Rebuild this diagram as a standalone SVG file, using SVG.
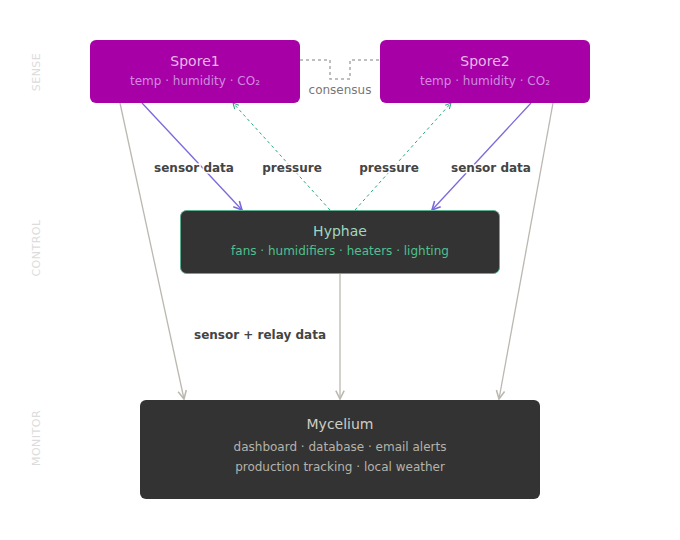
<svg xmlns="http://www.w3.org/2000/svg" width="680" height="540" viewBox="0 0 680 540">
<style>
text{font-family:"DejaVu Sans",sans-serif;text-anchor:middle}
.side{font-size:11px;fill:#dcdcdc;letter-spacing:0.5px}
.t{font-size:14px}
.s{font-size:12px}
.lbl{font-size:12px;font-weight:bold;fill:#444;stroke:#fff;stroke-width:3px;paint-order:stroke}
.purple{stroke:#7b68dd;stroke-width:1.3;fill:none}
.green{stroke:#2eaa7a;stroke-width:1;stroke-dasharray:3 3;fill:none}
.gray{stroke:#bbb8b0;stroke-width:1.3;fill:none}
</style>
<defs>
<marker id="ap" viewBox="0 0 10 10" refX="9" refY="5" markerWidth="8" markerHeight="8" orient="auto"><path d="M1 1L9 5L1 9" fill="none" stroke="#7b68dd" stroke-width="1.5"/></marker>
<marker id="ag" viewBox="0 0 10 10" refX="9" refY="5" markerWidth="7" markerHeight="7" orient="auto"><path d="M1 1L9 5L1 9" fill="none" stroke="#2eaa7a" stroke-width="1.5"/></marker>
<marker id="ay" viewBox="0 0 10 10" refX="9" refY="5" markerWidth="8" markerHeight="8" orient="auto"><path d="M1 1L9 5L1 9" fill="none" stroke="#bbb8b0" stroke-width="1.5"/></marker>
</defs>
<text class="side" transform="translate(40,72) rotate(-90)">SENSE</text>
<text class="side" transform="translate(40,248) rotate(-90)">CONTROL</text>
<text class="side" transform="translate(40,438) rotate(-90)">MONITOR</text>
<g id="connectors">
<path d="M300 60H330V79H350V60H380" stroke="#aaa" stroke-width="1.5" stroke-dasharray="3 3" fill="none"/>
<text x="340" y="94" class="s" fill="#777">consensus</text>
<path class="purple" d="M142 103L242 210" marker-end="url(#ap)"/>
<path class="purple" d="M531 103L432 210" marker-end="url(#ap)"/>
<path class="green" d="M330 210L233 103" marker-end="url(#ag)"/>
<path class="green" d="M355 210L451 103" marker-end="url(#ag)"/>
<path class="gray" d="M120 103L184 399" marker-end="url(#ay)"/>
<path class="gray" d="M340 273V399" marker-end="url(#ay)"/>
<path class="gray" d="M553 103L499 399" marker-end="url(#ay)"/>
<text x="194" y="172" class="lbl">sensor data</text>
<text x="292" y="172" class="lbl">pressure</text>
<text x="389" y="172" class="lbl">pressure</text>
<text x="491" y="172" class="lbl">sensor data</text>
<text x="260" y="339" class="lbl">sensor + relay data</text>
</g>
<g id="spore1">
<rect x="90" y="40" width="210" height="63" rx="6" fill="#a600a6"/>
<text x="195" y="66" class="t" fill="#e6b8e6">Spore1</text>
<text x="195" y="85" class="s" fill="#d08ae0">temp · humidity · CO₂</text>
</g>
<g id="spore2">
<rect x="380" y="40" width="210" height="63" rx="6" fill="#a600a6"/>
<text x="485" y="66" class="t" fill="#e6b8e6">Spore2</text>
<text x="485" y="85" class="s" fill="#d08ae0">temp · humidity · CO₂</text>
</g>
<g id="hyphae">
<rect x="180.5" y="210.5" width="319" height="63" rx="6" fill="#333" stroke="#5fae8f"/>
<text x="340" y="236" class="t" fill="#9fd8c0">Hyphae</text>
<text x="340" y="255" class="s" fill="#4fc08f">fans · humidifiers · heaters · lighting</text>
</g>
<g id="mycelium">
<rect x="140" y="400" width="400" height="99" rx="6" fill="#333"/>
<text x="340" y="429" class="t" fill="#d0cdc4">Mycelium</text>
<text x="340" y="451" class="s" fill="#b5b2aa">dashboard · database · email alerts</text>
<text x="340" y="471" class="s" fill="#b5b2aa">production tracking · local weather</text>
</g>
</svg>
